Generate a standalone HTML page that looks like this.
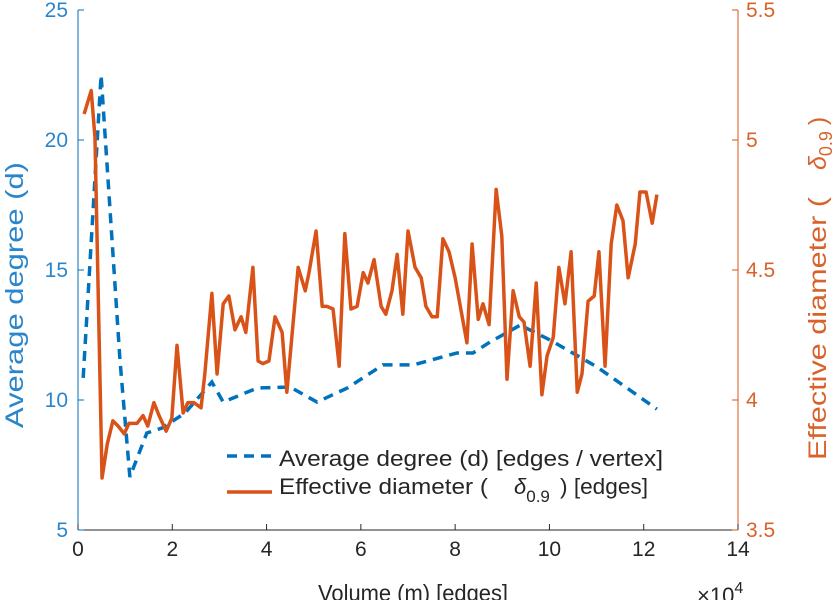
<!DOCTYPE html>
<html><head><meta charset="utf-8"><style>
body{margin:0;background:#fff}
svg{display:block;font-family:"Liberation Sans",sans-serif}
</style></head><body>
<svg id="chart" width="838" height="600" viewBox="0 0 838 600" xmlns="http://www.w3.org/2000/svg">
<g id="axes"></g>
<g id="series"></g>
<g id="legend">
 <line x1="227" y1="456" x2="272" y2="456" stroke="#0072BD" stroke-width="3.5" stroke-dasharray="10,7"/>
 <text x="279" y="466" font-size="22" fill="#262626" textLength="384" lengthAdjust="spacingAndGlyphs">Average degree (d) [edges / vertex]</text>
 <line x1="227" y1="492" x2="272" y2="492" stroke="#D95319" stroke-width="3.5"/>
 <text y="494" font-size="22" fill="#262626"><tspan x="279" textLength="209" lengthAdjust="spacingAndGlyphs">Effective diameter (</tspan><tspan x="514" font-style="italic">δ</tspan><tspan font-size="17" dy="8">0.9</tspan><tspan dy="-8" x="560" textLength="88" lengthAdjust="spacingAndGlyphs">) [edges]</tspan></text>
</g>
</svg>
<script>
const xTicks=[0,2,4,6,8,10,12,14];
const leftTicks=[5,10,15,20,25];
const rightTicks=[3.5,4,4.5,5,5.5];
const degreeX=[0.11,0.49,0.89,1.10,1.46,1.78,2.27,2.84,3.08,3.80,4.50,5.07,5.71,6.47,7.11,8.04,8.38,8.74,9.38,10.01,11.01,12.28];
const degreeY=[10.85,22.5,11.54,7.04,8.73,8.92,9.50,10.69,9.92,10.46,10.50,9.92,10.46,11.35,11.35,11.81,11.81,12.23,12.88,12.31,11.27,9.65];
const diamX=[0.13,0.28,0.36,0.51,0.62,0.74,0.85,0.98,1.08,1.25,1.38,1.48,1.61,1.72,1.87,1.99,2.10,2.23,2.33,2.46,2.61,2.69,2.84,2.95,3.08,3.20,3.33,3.46,3.56,3.71,3.82,3.92,4.05,4.18,4.33,4.43,4.67,4.82,4.90,5.05,5.18,5.28,5.41,5.54,5.66,5.79,5.92,6.05,6.15,6.28,6.43,6.53,6.66,6.77,6.89,7.00,7.15,7.28,7.38,7.51,7.62,7.74,7.87,8.00,8.12,8.25,8.36,8.49,8.59,8.72,8.87,8.99,9.10,9.23,9.36,9.46,9.59,9.72,9.84,9.95,10.08,10.20,10.33,10.46,10.59,10.69,10.82,10.95,11.05,11.18,11.31,11.43,11.56,11.67,11.82,11.92,12.05,12.18,12.28];
const diamY=[5.10,5.19,5.01,3.70,3.83,3.92,3.90,3.87,3.91,3.91,3.94,3.90,3.99,3.94,3.88,3.93,4.21,3.95,3.99,3.99,3.97,4.10,4.41,4.10,4.37,4.40,4.27,4.32,4.26,4.51,4.15,4.14,4.15,4.32,4.26,4.03,4.51,4.42,4.49,4.65,4.36,4.36,4.35,4.13,4.64,4.35,4.36,4.49,4.45,4.54,4.36,4.33,4.42,4.56,4.33,4.65,4.51,4.47,4.36,4.32,4.32,4.62,4.57,4.47,4.35,4.22,4.60,4.31,4.37,4.29,4.81,4.63,4.08,4.42,4.32,4.30,4.13,4.45,4.02,4.17,4.24,4.51,4.37,4.57,4.03,4.10,4.38,4.40,4.57,4.13,4.60,4.75,4.69,4.47,4.60,4.80,4.80,4.68,4.79];

const L=78,R=738,T=10,B=530;
const xs=v=>L+(v-0)/(14-0)*(R-L);
const yl=v=>B-(v-5)/(25-5)*(B-T);
const yr=v=>B-(v-3.5)/(5.5-3.5)*(B-T);
const NS="http://www.w3.org/2000/svg";
function mk(tag,attrs,parent,txt){const e=document.createElementNS(NS,tag);for(const k in attrs)e.setAttribute(k,attrs[k]);if(txt!==undefined)e.textContent=txt;parent.appendChild(e);return e;}
const axes=document.getElementById('axes'),series=document.getElementById('series');
const BLUE='#0072BD',ORG='#D95319',BTXT='#2a86cc',OTXT='#d9622b';

let a=mk('line',{x1:L,y1:B,x2:R,y2:B,stroke:'#262626','stroke-width':1},axes);


a=mk('line',{x1:L,y1:T,x2:L,y2:B,stroke:BLUE,'stroke-width':1},axes);


a=mk('line',{x1:R,y1:T,x2:R,y2:B,stroke:ORG,'stroke-width':1},axes);



xTicks.forEach(v=>{const x=xs(v);
 mk('line',{x1:x,y1:B,x2:x,y2:B-6,stroke:'#262626'},axes);
 const t=mk('text',{x:x,y:B+26,'font-size':21,'text-anchor':'middle',fill:'#262626'},axes,String(v));
 
 });
leftTicks.forEach(v=>{const y=yl(v);
 mk('line',{x1:L,y1:y,x2:L+6,y2:y,stroke:BLUE},axes);
 const t=mk('text',{x:L-10,y:y+7,'font-size':21,'text-anchor':'end',fill:BTXT},axes,String(v));
 
 });
rightTicks.forEach(v=>{const y=yr(v);
 mk('line',{x1:R,y1:y,x2:R-6,y2:y,stroke:ORG},axes);
 const t=mk('text',{x:R+8,y:y+7,'font-size':21,fill:OTXT},axes,String(v));
 
 });

let t=mk('text',{x:318,y:601,'font-size':23,fill:'#262626',textLength:190,lengthAdjust:'spacingAndGlyphs'},axes,'Volume (m) [edges]');


t=mk('text',{x:697,y:603,'font-size':22,fill:'#262626'},axes,'×10');


mk('tspan',{'font-size':16,dy:-10},t,'4');
t=mk('text',{x:0,y:0,'font-size':25,fill:BTXT,textLength:266,lengthAdjust:'spacingAndGlyphs',transform:'translate(23,428) rotate(-90)'},axes,'Average degree (d)');


t=mk('text',{x:0,y:0,'font-size':25,fill:OTXT,transform:'translate(826,460) rotate(-90)'},axes,'');


mk('tspan',{textLength:263,lengthAdjust:'spacingAndGlyphs'},t,'Effective diameter (');
mk('tspan',{x:290,'font-style':'italic'},t,'δ');
mk('tspan',{'font-size':18,dy:6},t,'0.9');
mk('tspan',{dy:-6,dx:6},t,')');

let p=mk('polyline',{points:degreeX.map((v,i)=>xs(v)+','+yl(degreeY[i])).join(' '),fill:'none',stroke:BLUE,'stroke-width':3.5,'stroke-dasharray':'10,7'},series);


p=mk('polyline',{points:diamX.map((v,i)=>xs(v)+','+yr(diamY[i])).join(' '),fill:'none',stroke:ORG,'stroke-width':3.5,'stroke-linejoin':'round'},series);


</script>
</body></html>
